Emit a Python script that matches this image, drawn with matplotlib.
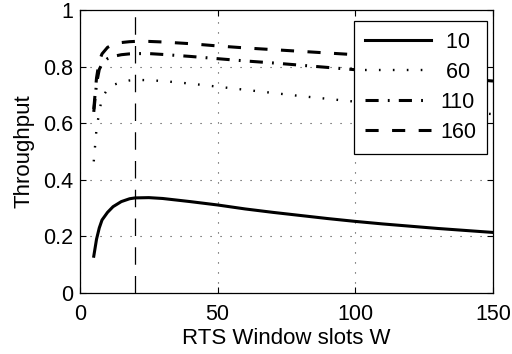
import matplotlib
matplotlib.use('Agg')
import matplotlib.pyplot as plt

# RTS window slots
W = [5, 6, 7, 8, 10, 12, 15, 18, 20, 25, 30, 40, 50, 60, 70, 80, 90, 100,
     110, 120, 130, 140, 150]
# throughput for each number of stations
thr_10 = [0.13, 0.19, 0.23, 0.258, 0.285, 0.305, 0.323, 0.333, 0.336, 0.337,
          0.334, 0.323, 0.311, 0.297, 0.285, 0.274, 0.263, 0.253, 0.244,
          0.236, 0.228, 0.221, 0.214]
thr_60 = [0.465, 0.58, 0.64, 0.69, 0.72, 0.735, 0.745, 0.751, 0.753, 0.752,
          0.749, 0.740, 0.729, 0.718, 0.707, 0.696, 0.686, 0.676, 0.666,
          0.657, 0.648, 0.640, 0.632]
thr_110 = [0.64, 0.74, 0.79, 0.81, 0.828, 0.836, 0.842, 0.845, 0.846, 0.846,
           0.843, 0.836, 0.828, 0.82, 0.813, 0.805, 0.797, 0.789, 0.781,
           0.773, 0.765, 0.757, 0.749]
thr_160 = [0.65, 0.76, 0.82, 0.845, 0.868, 0.878, 0.885, 0.888, 0.889, 0.889,
           0.887, 0.881, 0.873, 0.866, 0.86, 0.854, 0.848, 0.842, 0.837,
           0.831, 0.826, 0.82, 0.814]
labels = ['10', '60', '110', '160']
W_opt = 20

plt.rcParams['font.family'] = ['Liberation Sans', 'DejaVu Sans']
plt.rcParams['font.size'] = 15.5

fig = plt.figure(figsize=(5.12, 3.54), dpi=100)
ax = fig.add_axes([80 / 512, 61 / 354, 413 / 512, 283 / 354])

ax.plot(W, thr_10, color='k', lw=2.2, ls='-', label=' ' + labels[0])
ax.plot(W, thr_60, color='k', lw=1.7, ls=(0, (0.7, 5.2)), label=' ' + labels[1])
ax.plot(W, thr_110, color='k', lw=2.2, ls=(0, (4.3, 3.0, 0.6, 3.0)), label=labels[2])
ax.plot(W, thr_160, color='k', lw=2.2, ls=(0, (4.3, 4.4)), label=labels[3])
ax.axvline(W_opt, color='k', lw=0.9, ls=(0, (14, 9)))

ax.set_xlim(0, 150)
ax.set_ylim(0, 1)
ax.set_xticks([0, 50, 100, 150])
ax.set_yticks([0, 0.2, 0.4, 0.6, 0.8, 1])
ax.set_yticklabels(['0', '0.2', '0.4', '0.6', '0.8', '1'])
ax.grid(True, color='0.25', lw=0.8, ls=(0, (1, 8)))
ax.tick_params(direction='in', top=True, right=True, length=4, width=0.8)
ax.tick_params(axis='x', pad=8)
ax.tick_params(axis='y', pad=5)
for s in ax.spines.values():
    s.set_linewidth(0.9)

ax.set_xlabel('RTS Window slots W', fontsize=16, labelpad=2)
ax.set_ylabel('Throughput', fontsize=16, labelpad=6)

leg = ax.legend(loc='upper right', bbox_to_anchor=(0.985, 0.961),
                borderaxespad=0, fancybox=False, framealpha=1,
                edgecolor='k', handlelength=3.1, handletextpad=0.4,
                borderpad=0.5, labelspacing=0.42)
leg.get_frame().set_linewidth(0.9)

fig.savefig('out.png', dpi=100)
